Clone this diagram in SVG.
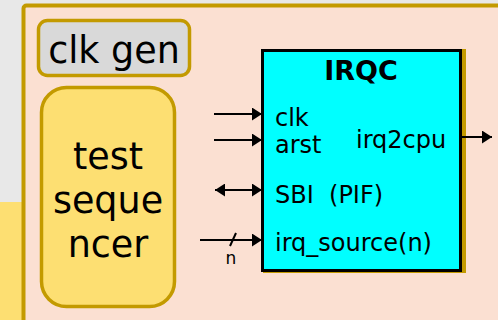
<svg xmlns="http://www.w3.org/2000/svg" width="498" height="320" viewBox="0 0 498 320">
  <defs>
    <marker id="head" viewBox="0 0 10 13" refX="10" refY="6.5" markerWidth="10" markerHeight="13" markerUnits="userSpaceOnUse" orient="auto-start-reverse">
      <path d="M0,0 L10,6.5 L0,13 Z" fill="#000"/>
    </marker>
    <style>
      .lbl { font-family: "DejaVu Sans", Verdana, sans-serif; fill: #000; }
      .big { font-size: 36.5px; text-anchor: middle; }
      .port { font-size: 24px; }
      .wire { stroke: #000; stroke-width: 2; fill: none; }
      .gold { stroke: #c39a00; stroke-width: 4; }
    </style>
  </defs>

  <!-- page background -->
  <rect x="0" y="0" width="498" height="320" fill="#e8e8e8"/>
  <rect x="0" y="202" width="24" height="118" fill="#fddf72"/>

  <!-- testbench frame -->
  <rect class="gold" x="23.5" y="5.5" width="500" height="340" rx="3" fill="#fbe0d2"/>

  <g id="clk-gen">
    <rect x="38.5" y="20.5" width="151" height="55" rx="9" fill="#d9d9d9" stroke="#c39a00" stroke-width="3.5"/>
    <text class="lbl big" x="114" y="63">clk gen</text>
  </g>

  <g id="test-sequencer">
    <rect x="41.5" y="87.5" width="133" height="219" rx="25" fill="#fddf72" stroke="#c39a00" stroke-width="3.5"/>
    <text class="lbl big" x="108" y="169">test</text>
    <text class="lbl big" x="108" y="213">seque</text>
    <text class="lbl big" x="108" y="257">ncer</text>
  </g>

  <g id="irqc">
    <rect x="263" y="49" width="203" height="224" fill="#c39a00"/>
    <rect x="262.5" y="50.5" width="198" height="220" fill="#00ffff" stroke="#000" stroke-width="3"/>
    <text class="lbl" x="361" y="80" font-size="27" font-weight="bold" text-anchor="middle">IRQC</text>
    <text class="lbl port" x="275" y="126">clk</text>
    <text class="lbl port" x="275" y="153">arst</text>
    <text class="lbl port" x="356" y="148">irq2cpu</text>
    <text class="lbl port" x="275" y="203" xml:space="preserve">SBI  (PIF)</text>
    <text class="lbl port" x="275" y="251">irq_source(n)</text>
  </g>

  <g id="connectors">
    <line class="wire" x1="214" y1="114" x2="262" y2="114" marker-end="url(#head)"/>
    <line class="wire" x1="214" y1="140" x2="262" y2="140" marker-end="url(#head)"/>
    <line class="wire" x1="215" y1="190" x2="262" y2="190" marker-start="url(#head)" marker-end="url(#head)"/>
    <line class="wire" x1="200" y1="240" x2="262" y2="240" marker-end="url(#head)"/>
    <line class="wire" x1="230" y1="246" x2="236" y2="233" stroke-width="1.5"/>
    <text class="lbl" x="231" y="264" font-size="17" text-anchor="middle">n</text>
    <line class="wire" x1="461" y1="137" x2="492" y2="137" marker-end="url(#head)"/>
  </g>
</svg>
